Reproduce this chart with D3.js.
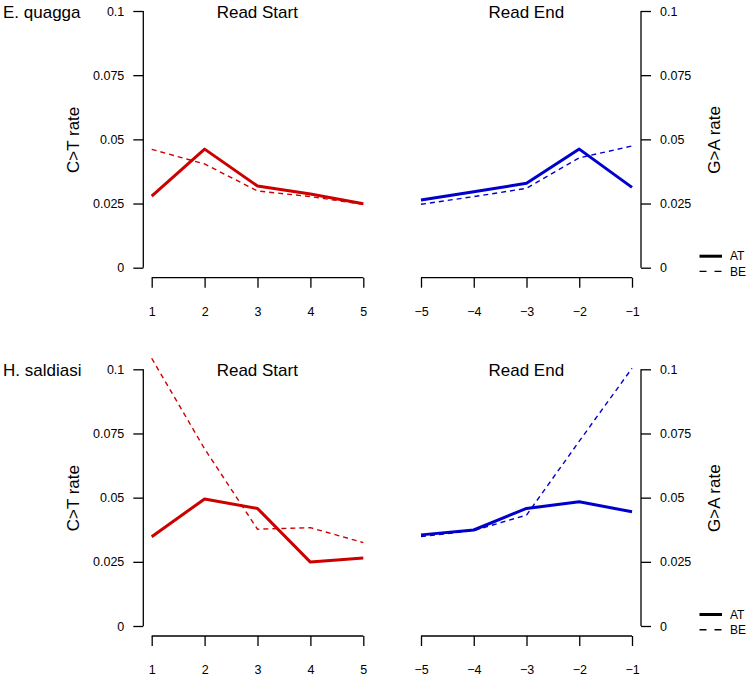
<!DOCTYPE html>
<html>
<head>
<meta charset="utf-8">
<script src="https://cdn.jsdelivr.net/npm/d3@7"></script>
<style>
  html, body { margin: 0; padding: 0; background: #fff; }
  svg { display: block; font-family: "Liberation Sans", Arial, Helvetica, sans-serif; }
</style>
</head>
<body>
<svg id="chart" width="752" height="677"></svg>
<script>
// ---------- data ----------
const species = ["E. quagga", "H. saldiasi"];
const startPositions = [1, 2, 3, 4, 5];
const endPositions = [-5, -4, -3, -2, -1];
const yTickValues = [0, 0.025, 0.05, 0.075, 0.1];
const yTickLabels = ["0", "0.025", "0.05", "0.075", "0.1"];
const xStartLabels = ["1", "2", "3", "4", "5"];
const xEndLabels = ["\u22125", "\u22124", "\u22123", "\u22122", "\u22121"];
const seriesNames = ["AT", "BE"];

// E. quagga
const quaggaStartAT = [0.0279, 0.0462, 0.0318, 0.0287, 0.0249];
const quaggaStartBE = [0.0461, 0.0404, 0.0299, 0.0277, 0.0247];
const quaggaEndAT   = [0.0264, 0.0296, 0.0329, 0.0462, 0.0313];
const quaggaEndBE   = [0.0247, 0.0277, 0.0309, 0.0428, 0.0474];
// H. saldiasi
const saldiasiStartAT = [0.0348, 0.0495, 0.0458, 0.0249, 0.0265];
const saldiasiStartBE = [0.1043, 0.0690, 0.0377, 0.0383, 0.0325];
const saldiasiEndAT   = [0.0355, 0.0374, 0.0458, 0.0484, 0.0445];
const saldiasiEndBE   = [0.0348, 0.0372, 0.0432, 0.0720, 0.1004];

const rows = [
  { name: species[0], startAT: quaggaStartAT, startBE: quaggaStartBE, endAT: quaggaEndAT, endBE: quaggaEndBE },
  { name: species[1], startAT: saldiasiStartAT, startBE: saldiasiStartBE, endAT: saldiasiEndAT, endBE: saldiasiEndBE }
];

// ---------- layout ----------
const svg = d3.select("#chart");
const red = "#CD0000", blue = "#0000CD";
const rowOffset = 358.3;
const xStart = d3.scaleLinear().domain([1, 5]).range([151.7, 363.3]);
const xEnd = d3.scaleLinear().domain([-5, -1]).range([421, 632]);
const leftAxisX = 143.3, rightAxisX = 641;
const tickLen = 10;
const fsTick = 12.5, fsLab = 17;

rows.forEach((row, i) => {
  const top = 11 + i * rowOffset;
  const bottom = 267.7 + i * rowOffset;
  const y = d3.scaleLinear().domain([0, 0.1]).range([bottom, top]);
  const g = svg.append("g");

  // left y axis
  const yAxisL = d3.axisLeft(y).tickValues(yTickValues)
    .tickFormat((d, k) => yTickLabels[k]).tickSize(tickLen).tickPadding(9);
  const gl = g.append("g").attr("transform", `translate(${leftAxisX},0)`).call(yAxisL);
  // right y axis
  const yAxisR = d3.axisRight(y).tickValues(yTickValues)
    .tickFormat((d, k) => yTickLabels[k]).tickSize(tickLen).tickPadding(9);
  const gr = g.append("g").attr("transform", `translate(${rightAxisX},0)`).call(yAxisR);
  // x axes
  const axisY = bottom + 10;
  const xAxisS = d3.axisBottom(xStart).tickValues(startPositions)
    .tickFormat((d, k) => xStartLabels[k]).tickSize(tickLen).tickPadding(19.5);
  const gxs = g.append("g").attr("transform", `translate(0,${axisY})`).call(xAxisS);
  const xAxisE = d3.axisBottom(xEnd).tickValues(endPositions)
    .tickFormat((d, k) => xEndLabels[k]).tickSize(tickLen).tickPadding(19.5);
  const gxe = g.append("g").attr("transform", `translate(0,${axisY})`).call(xAxisE);

  [gl, gr, gxs, gxe].forEach(a => {
    a.selectAll("path.domain").remove();
    a.selectAll("line").attr("stroke", "#000").attr("stroke-width", 1.3);
    a.selectAll("text").attr("font-size", fsTick).attr("fill", "#000")
      .attr("font-family", "Liberation Sans, Arial, sans-serif");
  });
  // axis lines spanning tick range
  g.append("line").attr("x1", leftAxisX).attr("x2", leftAxisX).attr("y1", y(0)).attr("y2", y(0.1))
    .attr("stroke", "#000").attr("stroke-width", 1.3);
  g.append("line").attr("x1", rightAxisX).attr("x2", rightAxisX).attr("y1", y(0)).attr("y2", y(0.1))
    .attr("stroke", "#000").attr("stroke-width", 1.3);
  g.append("line").attr("x1", xStart(1)).attr("x2", xStart(5)).attr("y1", axisY).attr("y2", axisY)
    .attr("stroke", "#000").attr("stroke-width", 1.3);
  g.append("line").attr("x1", xEnd(-5)).attr("x2", xEnd(-1)).attr("y1", axisY).attr("y2", axisY)
    .attr("stroke", "#000").attr("stroke-width", 1.3);

  // lines
  const lineS = d3.line().x((d, k) => xStart(startPositions[k])).y(d => y(d));
  const lineE = d3.line().x((d, k) => xEnd(endPositions[k])).y(d => y(d));
  g.append("path").attr("d", lineS(row.startBE)).attr("fill", "none").attr("stroke", red)
    .attr("stroke-width", 1.4).attr("stroke-dasharray", "5,4");
  g.append("path").attr("d", lineS(row.startAT)).attr("fill", "none").attr("stroke", red)
    .attr("stroke-width", 3).attr("stroke-linejoin", "round");
  g.append("path").attr("d", lineE(row.endBE)).attr("fill", "none").attr("stroke", blue)
    .attr("stroke-width", 1.4).attr("stroke-dasharray", "5,4");
  g.append("path").attr("d", lineE(row.endAT)).attr("fill", "none").attr("stroke", blue)
    .attr("stroke-width", 3).attr("stroke-linejoin", "round");

  // titles
  const titleY = top + 0.7;
  g.append("text").attr("x", 3).attr("y", titleY).attr("dy", "0.35em")
    .attr("font-size", fsLab).text(row.name);
  g.append("text").attr("x", 257.3).attr("y", titleY).attr("dy", "0.35em")
    .attr("text-anchor", "middle").attr("font-size", fsLab).text("Read Start");
  g.append("text").attr("x", 526.3).attr("y", titleY).attr("dy", "0.35em")
    .attr("text-anchor", "middle").attr("font-size", fsLab).text("Read End");

  // y labels
  const midY = (top + bottom) / 2 + 0.5;
  g.append("text").attr("transform", `translate(72.7,${midY}) rotate(-90)`)
    .attr("dy", "0.35em").attr("text-anchor", "middle").attr("font-size", fsLab).text("C>T rate");
  g.append("text").attr("transform", `translate(713.7,${midY}) rotate(-90)`)
    .attr("dy", "0.35em").attr("text-anchor", "middle").attr("font-size", fsLab).text("G>A rate");

  // legend
  const ly1 = bottom - 11.5, ly2 = bottom + 3.7;
  g.append("line").attr("x1", 699.5).attr("x2", 722).attr("y1", ly1).attr("y2", ly1)
    .attr("stroke", "#000").attr("stroke-width", 3);
  g.append("line").attr("x1", 699.5).attr("x2", 722).attr("y1", ly2).attr("y2", ly2)
    .attr("stroke", "#000").attr("stroke-width", 1.4).attr("stroke-dasharray", "7,8");
  g.append("text").attr("x", 730).attr("y", ly1).attr("dy", "0.35em").attr("font-size", 12)
    .text(seriesNames[0]);
  g.append("text").attr("x", 730).attr("y", ly2).attr("dy", "0.35em").attr("font-size", 12)
    .text(seriesNames[1]);
});
</script>
</body>
</html>
